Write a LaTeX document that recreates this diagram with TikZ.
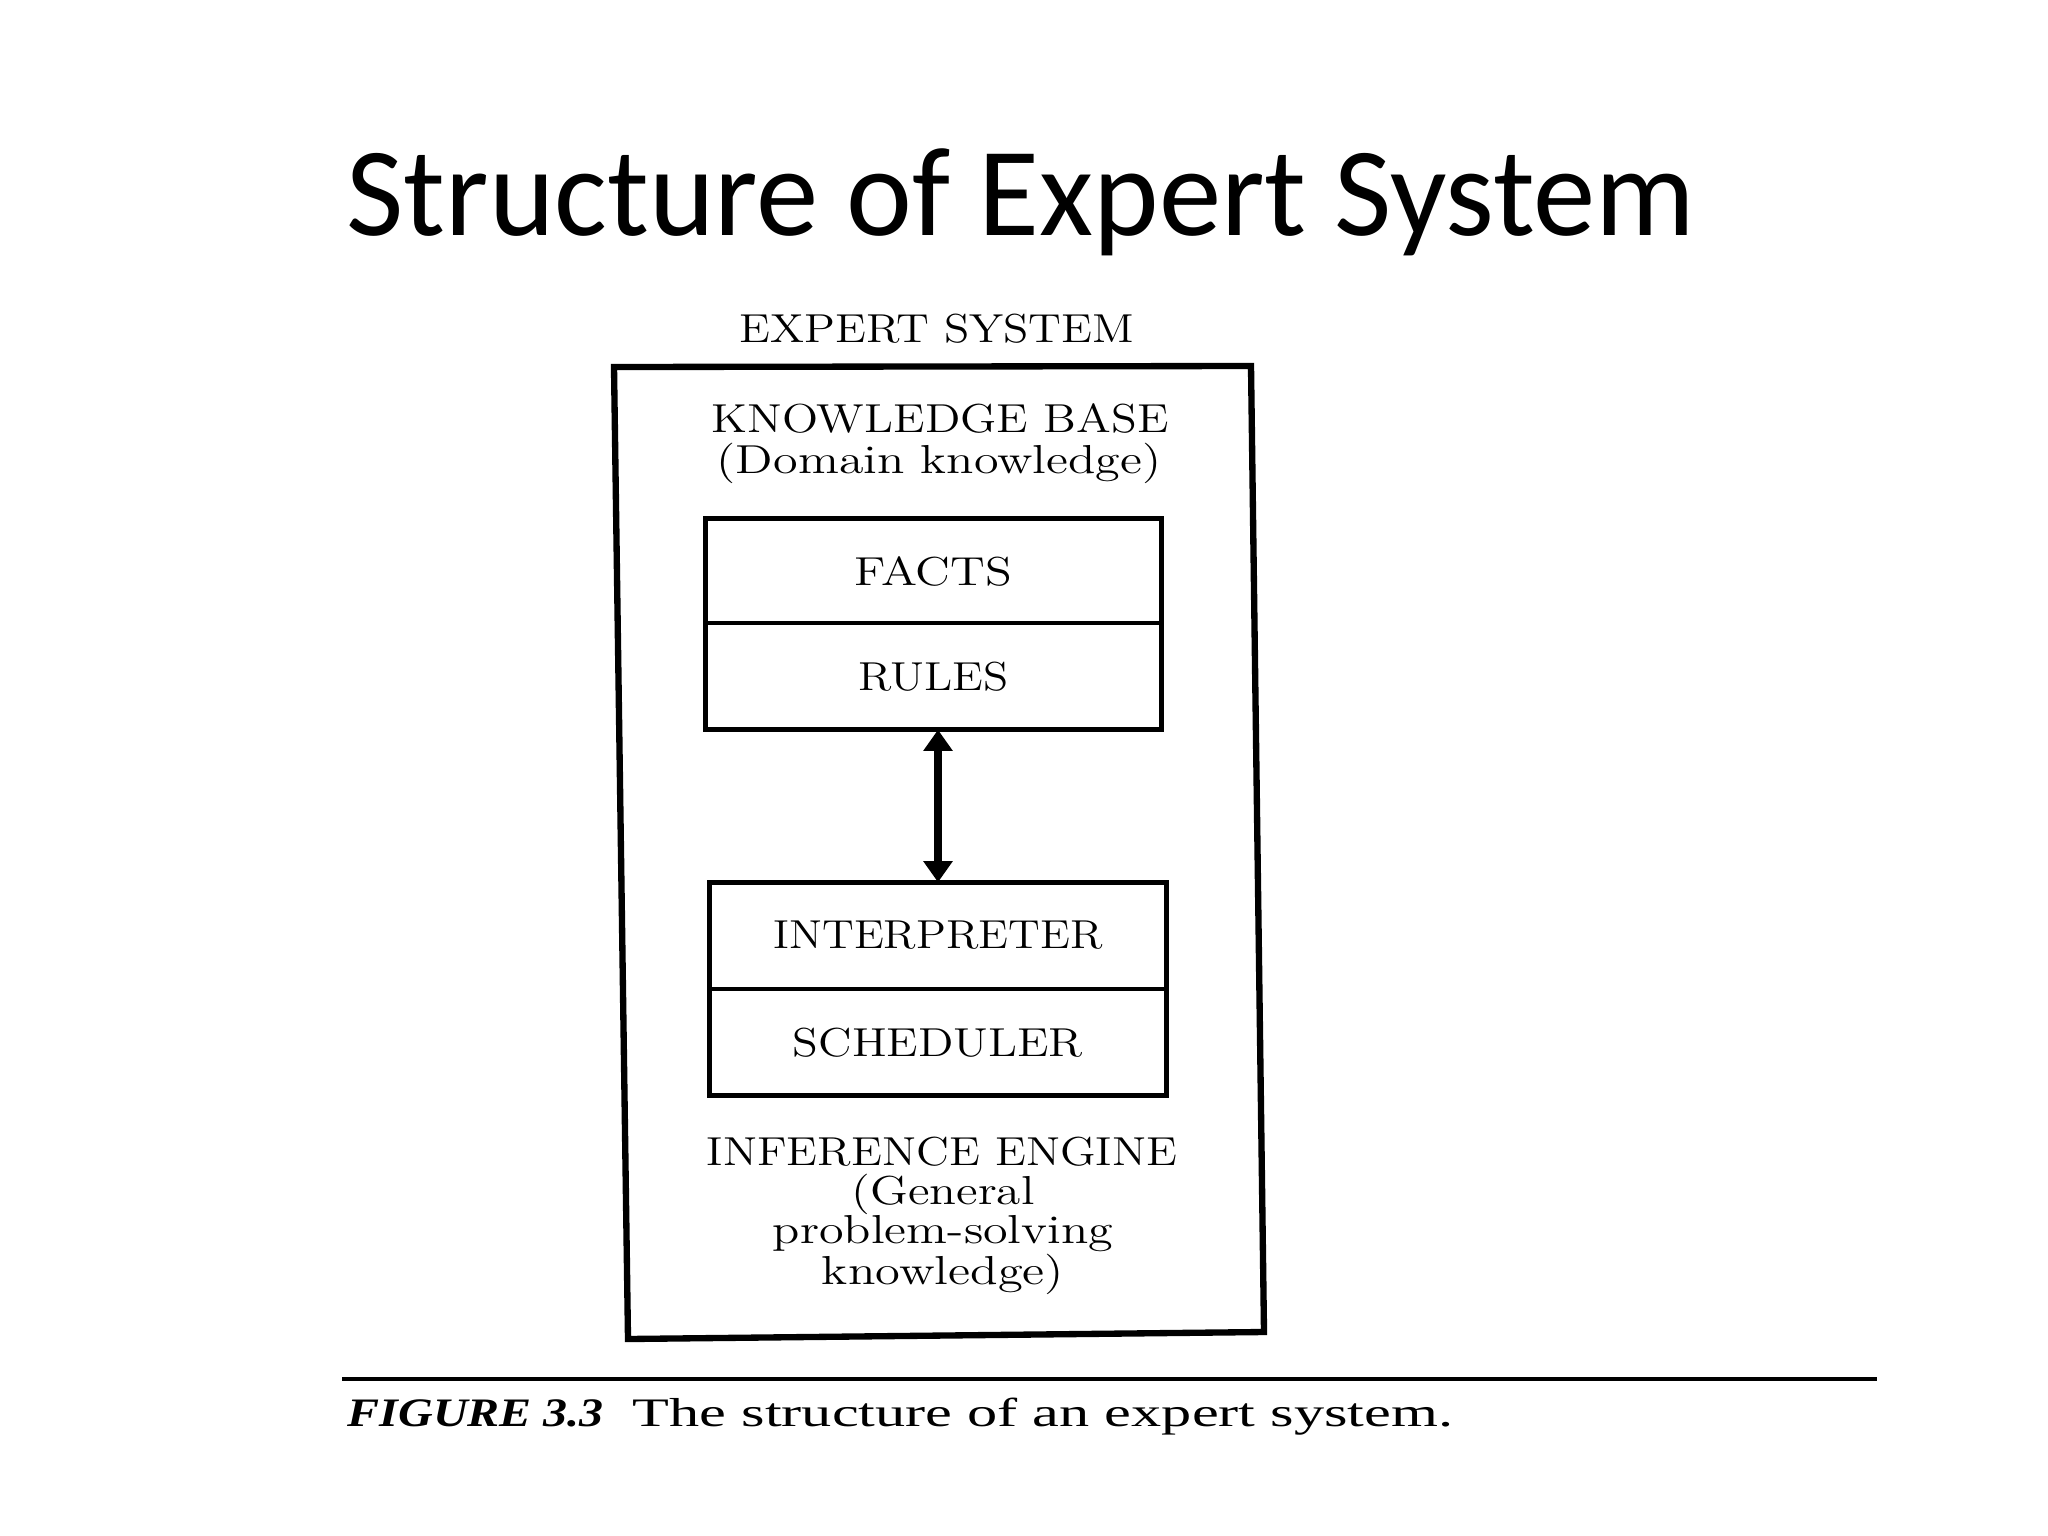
\documentclass[tikz,border=0pt]{standalone}
\usepackage{fontspec}
\usepackage{graphicx}
\usetikzlibrary{arrows.meta}
\newfontfamily\titlefont{Carlito}
\newfontfamily\capfont{Liberation Serif}
\newcommand{\wfit}[2]{\resizebox{#1}{\height}{#2}}
\tikzset{
  lbl/.style={inner sep=0pt, anchor=base, font=\fontsize{11.5}{13}\selectfont},
  boxline/.style={line width=1.5pt},
  divline/.style={line width=1.1pt},
  outerline/.style={line width=1.8pt},
  part/.style={minimum width=4.55cm, minimum height=1.05cm, inner sep=0pt, font=\fontsize{11.5}{13}\selectfont},
  dblarrow/.style={line width=2.4pt, {Triangle[width=8pt,length=6pt]}-{Triangle[width=8pt,length=6pt]}},
  rulerline/.style={line width=1.2pt},
}
\begin{document}
\begin{tikzpicture}[x=0.01cm,y=-0.01cm]
\useasboundingbox[fill=white] (0,0) rectangle (2048,1536);

% title
\node[anchor=base, inner sep=0pt] (title) at (1021,235)
  {\titlefont\fontsize{36}{40}\selectfont\wfit{13.48cm}{Structure of Expert System}};

% outer box
\draw[outerline] (614,367) -- (1251,366) -- (1264,1332) -- (628,1339) -- cycle;

\node[lbl] (es) at (937,342) {\wfit{3.94cm}{EXPERT SYSTEM}};
\node[lbl] (kb) at (940,432) {\wfit{4.57cm}{KNOWLEDGE BASE}};
\node[lbl] (kbd) at (939,473) {\wfit{4.44cm}{(Domain knowledge)}};

% knowledge base box
\node[part] (facts) at (933.5,571.5) {\wfit{1.57cm}{FACTS}};
\node[part] (rules) at (933.5,676.5) {\wfit{1.50cm}{RULES}};
\draw[boxline] (facts.north west) rectangle (rules.south east);
\draw[divline] (rules.north west) -- (rules.north east);

% inference engine box
\node[part] (interp) at (938,935.5) {\wfit{3.29cm}{INTERPRETER}};
\node[part] (sched) at (938,1042.5) {\wfit{2.90cm}{SCHEDULER}};
\draw[boxline] (interp.north west) rectangle (sched.south east);
\draw[divline] (sched.north west) -- (sched.north east);

% arrow
\draw[dblarrow] (rules.south -| interp.north) -- (interp.north);

\node[lbl] (ie) at (942,1165) {\wfit{4.70cm}{INFERENCE ENGINE}};
\node[lbl] (ie1) at (943,1204) {\wfit{1.83cm}{(General}};
\node[lbl] (ie2) at (943,1243) {\wfit{3.40cm}{problem-solving}};
\node[lbl] (ie3) at (943,1284) {\wfit{2.42cm}{knowledge)}};

% caption
\coordinate (rl) at (342,1379);
\coordinate (rr) at (1877,1379);
\draw[rulerline] (rl) -- (rr);
\node[inner sep=0pt, anchor=base west] (figlbl) at (347,1426)
  {\capfont\fontsize{11.5}{13}\selectfont\bfseries\itshape\wfit{2.56cm}{FIGURE 3.3}};
\node[inner sep=0pt, anchor=base west] (figtxt) at (632,1426)
  {\capfont\fontsize{11.5}{13}\selectfont\wfit{8.20cm}{The structure of an expert system.}};
\end{tikzpicture}
\end{document}
